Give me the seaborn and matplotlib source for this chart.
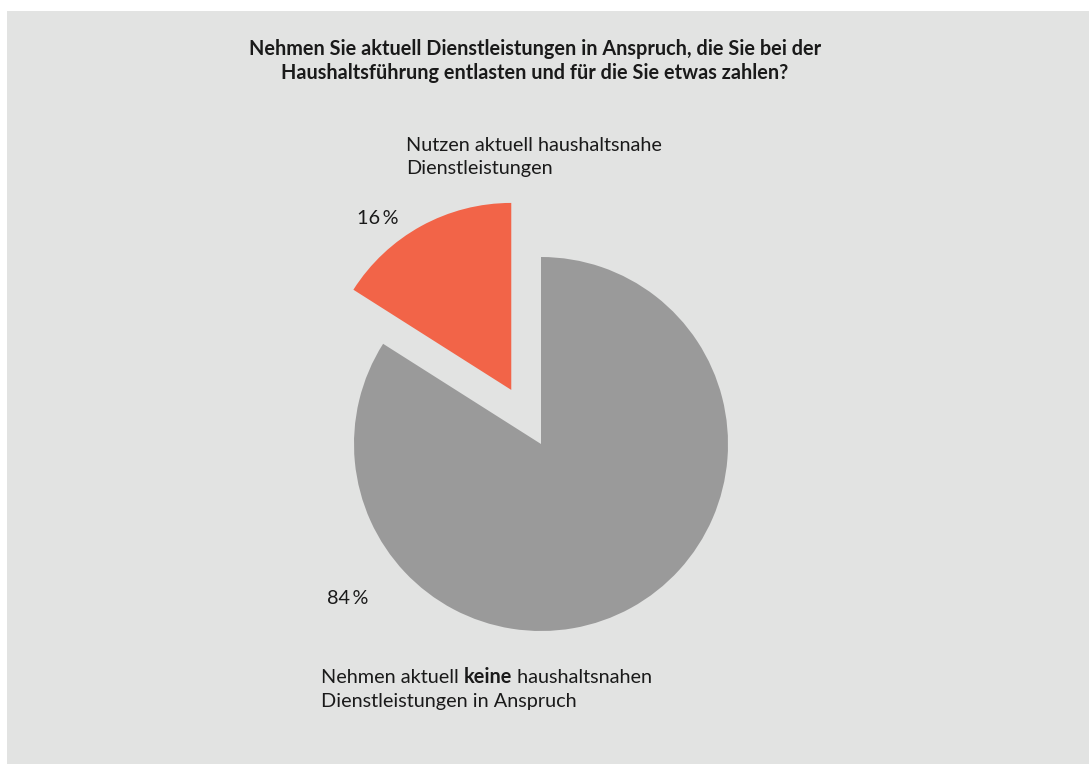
import matplotlib
matplotlib.use("Agg")
import matplotlib.pyplot as plt
import seaborn as sns
from matplotlib.patches import Rectangle

sns.set_theme(style="white")
FONT = ["Lato", "DejaVu Sans"]
plt.rcParams["font.family"] = FONT

# ---- data ----
categories = ["Nutzen aktuell haushaltsnahe Dienstleistungen",
              "Nehmen aktuell keine haushaltsnahen Dienstleistungen in Anspruch"]
shares = [16, 84]
pct_labels = ["16\u2009%", "84\u2009%"]
title = ("Nehmen Sie aktuell Dienstleistungen in Anspruch, die Sie bei der\n"
         "Haushaltsführung entlasten und für die Sie etwas zahlen?")

colors = ["#f26448", "#9a9a9a"]
BG = "#e2e3e2"
TXT = "#1a1a1a"

W, H = 1089, 764
fig = plt.figure(figsize=(W / 100, H / 100), dpi=100)
fig.patch.set_facecolor("white")
fig.patches.append(Rectangle((7 / W, 0), 1 - 7 / W, (H - 11) / H,
                             transform=fig.transFigure, facecolor=BG,
                             edgecolor="none", zorder=-5))

ax = fig.add_axes([0, 0, 1, 1])
ax.set_facecolor("none")
ax.set_zorder(1)
cx, cy, r = 541, 444, 187
ax.pie(shares, colors=colors, startangle=90, counterclock=True,
       explode=[0.33, 0], radius=1,
       wedgeprops=dict(linewidth=0, edgecolor="none"))
ax.set_xlim((0 - cx) / r, (W - cx) / r)
ax.set_ylim((cy - H) / r, (cy - 0) / r)
ax.set_aspect("equal")
ax.axis("off")

def fx(px):
    return px / W

def fy(py):
    return 1 - py / H

FS = 14.3
fig.text(fx(535), fy(61), title, ha="center", va="center", fontsize=14.3,
         fontweight="bold", color=TXT, linespacing=1.3, zorder=3)

fig.text(fx(406), fy(157), "Nutzen aktuell haushaltsnahe\nDienstleistungen",
         ha="left", va="center", fontsize=FS, color=TXT, linespacing=1.45,
         zorder=3)
fig.text(fx(357), fy(218), pct_labels[0], ha="left", va="center",
         fontsize=FS, color=TXT, zorder=3)
fig.text(fx(327), fy(598), pct_labels[1], ha="left", va="center",
         fontsize=FS, color=TXT, zorder=3)

BASE1 = fy(683)
t1 = fig.text(fx(321), BASE1, "Nehmen aktuell ", ha="left", va="baseline",
              fontsize=FS, color=TXT, zorder=3)
t2 = fig.text(0, BASE1, "keine", ha="left", va="baseline", fontsize=FS,
              fontweight="bold", color=TXT, zorder=3)
t3 = fig.text(0, BASE1, " haushaltsnahen", ha="left", va="baseline",
              fontsize=FS, color=TXT, zorder=3)
fig.text(fx(321), fy(707), "Dienstleistungen in Anspruch", ha="left",
         va="baseline", fontsize=FS, color=TXT, zorder=3)

# chain the mixed-weight line
fig.canvas.draw()
r_ = fig.canvas.get_renderer()
bb1 = t1.get_window_extent(r_)
t2.set_position((bb1.x1 / W, BASE1))
fig.canvas.draw()
bb2 = t2.get_window_extent(r_)
t3.set_position((bb2.x1 / W, BASE1))

fig.savefig("out.png", dpi=100, facecolor=fig.get_facecolor())
